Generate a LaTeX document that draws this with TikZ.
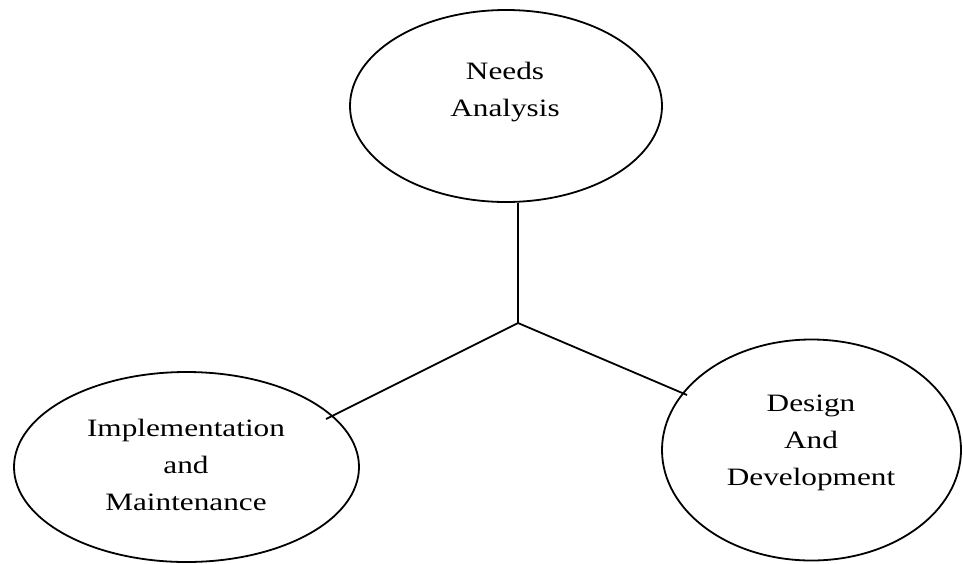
\documentclass[tikz,border=0pt]{standalone}
\usepackage{fontspec}
\setmainfont{Liberation Serif}[FakeStretch=1.25]
\usetikzlibrary{shapes.geometric}
\tikzset{
  phase/.style={draw, ellipse, inner sep=0pt, line width=1.8pt},
  lbl/.style={align=center, anchor=base, inner sep=0pt, font=\fontsize{25}{37}\selectfont},
}
\begin{document}
\begin{tikzpicture}[x=1pt, y=-1pt]
  \useasboundingbox (0,0) rectangle (963,563);
  % the three phases
  \node[phase, minimum width=312pt, minimum height=192pt] (needs) at (506,106) {};
  \node[phase, minimum width=345pt, minimum height=190pt] (impl) at (186.5,467) {};
  \node[phase, minimum width=299pt, minimum height=221pt] (design) at (811.5,450) {};
  \node[lbl] (needstxt) at (505,116) {Needs\\Analysis};
  \node[lbl] (impltxt) at (186,510) {Implementation\\and\\Maintenance};
  \node[lbl] (designtxt) at (811,485) {Design\\And\\Development};
  % connectors
  \coordinate (hub) at (518,323);
  \coordinate (implend) at (326,419);
  \coordinate (designend) at (687,395);
  \draw[line width=1.8pt] (hub |- needs.south) -- (hub);
  \draw[line width=1.8pt] (hub) -- (implend);
  \draw[line width=1.8pt] (hub) -- (designend);
\end{tikzpicture}
\end{document}
